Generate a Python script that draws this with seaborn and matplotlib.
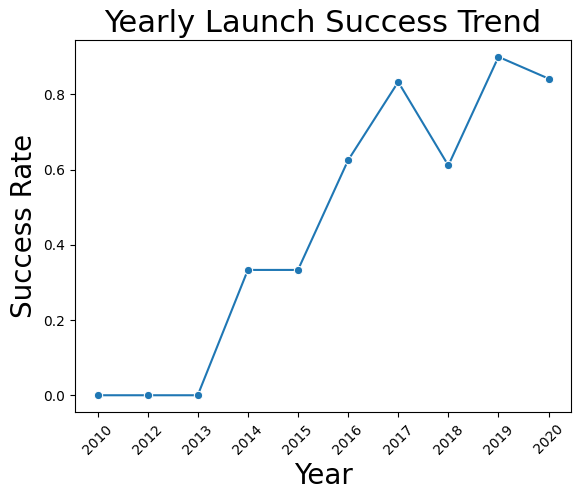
import matplotlib
matplotlib.use("Agg")
import matplotlib.pyplot as plt
import seaborn as sns
import pandas as pd

years = ["2010", "2012", "2013", "2014", "2015", "2016", "2017", "2018", "2019", "2020"]
success_rate = [0.0, 0.0, 0.0, 0.3333, 0.3333, 0.625, 0.8333, 0.6111, 0.9, 0.8421]

df = pd.DataFrame({"Year": years, "Success Rate": success_rate})

fig, ax = plt.subplots(figsize=(5.81, 4.99), dpi=100)
fig.subplots_adjust(left=0.129, right=0.983, top=0.92, bottom=0.174)

sns.lineplot(data=df, x="Year", y="Success Rate", marker="o", ax=ax)

ax.set_title("Yearly Launch Success Trend", fontsize=22)
ax.set_xlabel("Year", fontsize=20)
ax.set_ylabel("Success Rate", fontsize=20)
plt.setp(ax.get_xticklabels(), rotation=45)

fig.savefig("out.png", dpi=100)
